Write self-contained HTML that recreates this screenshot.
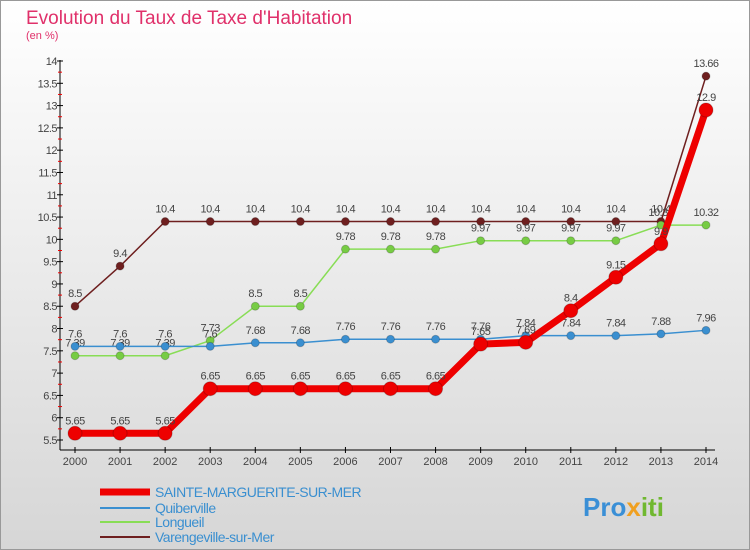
<!DOCTYPE html>
<html><head><meta charset="utf-8"><style>
body{margin:0;background:#fff}
#wrap{position:relative;width:750px;height:550px;overflow:hidden;font-family:"Liberation Sans",sans-serif}
</style></head><body>
<div id="wrap">
<svg id="chart" width="750" height="550" xmlns="http://www.w3.org/2000/svg">
<defs><linearGradient id="bg" x1="0" y1="0" x2="0" y2="1"><stop offset="0" stop-color="#ffffff"/><stop offset="1" stop-color="#d6d6d6"/></linearGradient></defs>
<rect x="0.5" y="0.5" width="749" height="549" fill="url(#bg)" stroke="#999"/>
<text x="26" y="24" font-size="19" fill="#e0306a">Evolution du Taux de Taxe d'Habitation</text>
<text x="26" y="39" font-size="11" fill="#e0306a">(en %)</text>
<g id="axes"></g><g id="series"></g><g id="legend"></g>
<text x="583" y="516" font-size="26" font-weight="bold" fill="#3a8fd6">Pro<tspan fill="#f0a020">x</tspan><tspan fill="#70b830">iti</tspan></text>
</svg>
</div>
<script>
const years=[2000,2001,2002,2003,2004,2005,2006,2007,2008,2009,2010,2011,2012,2013,2014];
const yTicks=[5.5,6,6.5,7,7.5,8,8.5,9,9.5,10,10.5,11,11.5,12,12.5,13,13.5,14];
const sainte=[5.65,5.65,5.65,6.65,6.65,6.65,6.65,6.65,6.65,7.65,7.69,8.4,9.15,9.9,12.9];
const quiberville=[7.6,7.6,7.6,7.6,7.68,7.68,7.76,7.76,7.76,7.76,7.84,7.84,7.84,7.88,7.96];
const longueil=[7.39,7.39,7.39,7.73,8.5,8.5,9.78,9.78,9.78,9.97,9.97,9.97,9.97,10.32,10.32];
const varengeville=[8.5,9.4,10.4,10.4,10.4,10.4,10.4,10.4,10.4,10.4,10.4,10.4,10.4,10.4,13.66];
const names=["SAINTE-MARGUERITE-SUR-MER","Quiberville","Longueil","Varengeville-sur-Mer"];
const NS="http://www.w3.org/2000/svg";
const X=i=>75+i*(631/14);
const Y=v=>440-(v-5.5)*(379/8.5);
function mk(t,a,p){const e=document.createElementNS(NS,t);for(const k in a)e.setAttribute(k,a[k]);p.appendChild(e);return e;}
const ax=document.getElementById('axes');
let l=mk('line',{x1:60,y1:60,x2:60,y2:450,stroke:'#000','stroke-width':1},ax);


l=mk('line',{x1:60,y1:450,x2:715,y2:450,stroke:'#000','stroke-width':1},ax);


yTicks.forEach(v=>{const y=Y(v);
mk('line',{x1:57,y1:y,x2:63,y2:y,stroke:'#000'},ax);
mk('line',{x1:58,y1:y+11.15,x2:62,y2:y+11.15,stroke:v>5.5?'#e00':'none'},ax);
const t=mk('text',{x:57,y:y+4,'font-size':11,fill:'#444','text-anchor':'end','letter-spacing':'-0.5'},ax);t.textContent=v;

});
years.forEach((yr,i)=>{const x=X(i);mk('line',{x1:x,y1:447,x2:x,y2:453,stroke:'#000'},ax);
const t=mk('text',{x:x,y:465,'font-size':11,fill:'#444','text-anchor':'middle'},ax);t.textContent=yr;

});
const sg=document.getElementById('series');
function draw(data,color,dot,w,r,name){const g=mk('g',{},sg);


mk('polyline',{points:data.map((v,i)=>X(i)+','+Y(v)).join(' '),fill:'none',stroke:color,'stroke-width':w,'stroke-linejoin':'round'},g);
data.forEach((v,i)=>{const c=mk('circle',{cx:X(i),cy:Y(v),r:r,fill:dot,stroke:'rgba(0,0,0,0.2)'},g);


const t=mk('text',{x:X(i),y:Y(v)-9,'font-size':11,fill:'#444','text-anchor':'middle','letter-spacing':'-0.5'},g);t.textContent=v;});}
draw(varengeville,'#6e1f1f','#6e1f1f',1.5,4,'series-varengeville');
draw(longueil,'#88dd55','#77cc44',1.5,4,'series-longueil');
draw(quiberville,'#3a8fd0','#3a8fd0',1.5,4,'series-quiberville');
draw(sainte,'#ee0000','#ee0000',7,7,'series-sainte-marguerite');
const lg=document.getElementById('legend');
const cols=['#ee0000','#3a8fd0','#88dd55','#6e1f1f'],ws=[7,2,2,2],ys=[492,508,522,537];
names.forEach((n,i)=>{const g=mk('g',{},lg);


mk('line',{x1:100,y1:ys[i],x2:150,y2:ys[i],stroke:cols[i],'stroke-width':ws[i]},g);
const t=mk('text',{x:155,y:ys[i]+5,'font-size':14,fill:'#3a8fd0','letter-spacing':'-0.5'},g);t.textContent=n;});
</script>
</body></html>
